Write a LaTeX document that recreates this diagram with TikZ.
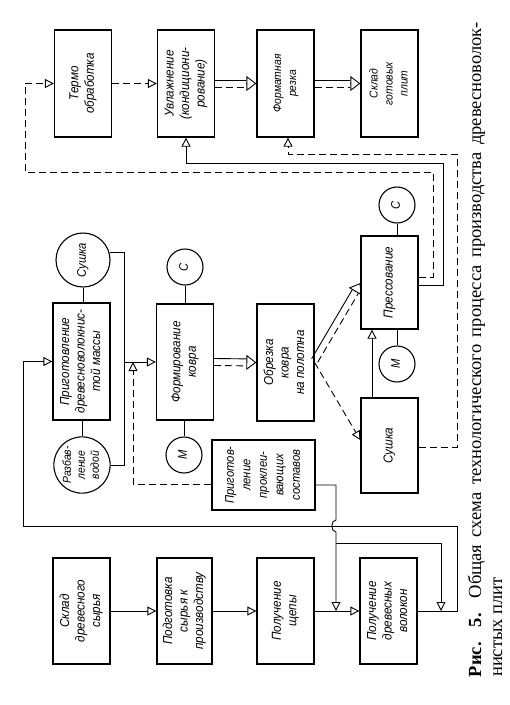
\documentclass[tikz,border=0pt]{standalone}
\usepackage{fontspec}
\usepackage{graphicx}
\setmainfont{Liberation Serif}
\newfontfamily\dfont[FakeStretch=0.9]{Liberation Sans}
\usetikzlibrary{arrows.meta,calc}
\newcommand\vtext[1]{\rotatebox{90}{\begin{tabular}{@{}c@{}}#1\end{tabular}}}
\newcommand\dblcon[2]{%
  \coordinate (dcA) at (#1);
  \coordinate (dcB) at (#2);
  \coordinate (dcM) at ($(dcB)!10pt!(dcA)$);
  \draw[conn] ($(dcA)!3.5pt!90:(dcB)$) -- ($(dcM)!3.5pt!90:(dcB)$);
  \draw[conn,dsh] ($(dcA)!3.5pt!-90:(dcB)$) -- ($(dcM)!3.5pt!-90:(dcB)$);
  \draw[conn,dbltip] (dcM) -- (dcB);}
\begin{document}
\begin{tikzpicture}[x=1pt,y=-1pt,
  box/.style={draw, line width=1.3pt, inner sep=0pt, minimum width=57pt,
    font=\dfont\itshape\fontsize{13}{15.5}\selectfont},
  small/.style={font=\dfont\itshape\fontsize{11.5}{15}\selectfont},
  circ/.style={draw, circle, line width=1.1pt, inner sep=0pt,
    font=\dfont\itshape\fontsize{12.5}{14}\selectfont},
  conn/.style={line width=0.9pt},
  dsh/.style={dash pattern=on 7pt off 4pt},
  arr/.style={-{Triangle[open,length=9pt,width=9pt,line width=0.9pt]}},
  dbltip/.style={-{Triangle[open,length=10pt,width=15pt,line width=0.9pt]}}]
\useasboundingbox (0,0) rectangle (510,705);
\fill[white] (0,0) rectangle (510,705);
% top row
\node[box, minimum height=107pt] (term) at (83,83.5) {\vtext{Термо\\обработка}};
\node[box, minimum height=107pt] (uvl) at (186,83.5) {\vtext{Увлажнение\\(кондициони-\\рование)}};
\node[box, small, minimum height=107pt] (form) at (285.5,83.5) {\vtext{Форматная\\резка}};
\node[box, small, minimum height=107pt] (gotov) at (389.5,83.5) {\vtext{Склад\\готовых\\плит}};
% middle
\node[circ, minimum size=54pt] (sush1) at (83,260) {\vtext{Сушка}};
\node[box, minimum height=117pt] (prig) at (81.5,361.5) {\vtext{Приготовление\\древесноволокнис-\\той массы}};
\node[circ, minimum size=54pt, font=\dfont\itshape\fontsize{11.5}{14}\selectfont] (razb) at (82,465) {\vtext{Разбав-\\ление\\водой}};
\node[box, minimum height=116pt] (formir) at (185,362) {\vtext{Формирование\\ковра}};
\node[circ, minimum size=36pt] (c1) at (185,267) {\vtext{С}};
\node[circ, minimum size=36pt] (m1) at (184,455) {\vtext{М}};
\node[box, minimum height=117pt] (obrez) at (285.5,362.5) {\vtext{Обрезка\\ковра\\на полотна}};
\node[box, minimum height=93pt] (press) at (389.5,282.5) {\vtext{Прессование}};
\node[circ, minimum size=36pt] (c2) at (397,205) {\vtext{С}};
\node[circ, minimum size=36pt] (m2) at (397,364) {\vtext{М}};
\node[box, minimum height=95pt] (sush2) at (389.5,445.5) {\vtext{Сушка}};
\node[box, minimum width=103pt, minimum height=70pt, font=\dfont\itshape\fontsize{12.5}{16.5}\selectfont] (prok) at (263.5,475) {\vtext{Приготов-\\ление\\проклеи-\\вающих\\составов}};
% bottom row
\node[box, minimum height=106pt] (skl) at (81.5,611) {\vtext{Склад\\древесного\\сырья}};
\node[box, minimum width=55pt, minimum height=106pt] (podg) at (184.5,611) {\vtext{Подготовка\\сырья к\\производству}};
\node[box, minimum height=106pt] (shch) at (285.5,611) {\vtext{Получение\\щепы}};
\node[box, minimum height=106pt] (volok) at (388.5,611) {\vtext{Получение\\древесных\\волокон}};
% connectors top
\draw[conn,dsh,arr] (term.east) -- (uvl.west);
\dblcon{uvl.east}{form.west}
\dblcon{form.east}{gotov.west}
\draw[conn,dsh,arr] ([yshift=5.5pt]press.east) -| (433,172) -- (25,172) |- (term.west);
\draw[conn,arr] ([yshift=-2.5pt]press.east) -| (443,163) -| (uvl.south);
\draw[conn,dsh,arr] ([yshift=-1.5pt]sush2.east) -| (457,154) -| ([xshift=2.5pt]form.south);
% middle
\draw[conn] (sush1.south) -- (sush1.south |- prig.north);
\draw[conn] (razb.north |- prig.south) -- (razb.north);
\draw[conn] (c1.south) -- (c1.south |- formir.north);
\draw[conn] (m1.north) -- (m1.north |- formir.south);
\draw[conn] (c2.south) -- (c2.south |- press.north);
\draw[conn] (m2.north) -- (m2.north |- press.south);
\draw[conn,arr] (sush1.15) -| (124,362) -- (formir.west);
\draw[conn] (razb.east) -| (124,362);
\draw[conn,dsh,arr] ([yshift=-9pt]prok.west) -| (133,362);
\dblcon{formir.east}{obrez.west}
\dblcon{$(obrez.east)+(0,-2)$}{$(press.west)+(0,0.5)$}
\draw[conn,dsh,arr] (obrez.east) -- ($(sush2.west)+(0,-5.5)$);
\draw[conn,arr] ([xshift=-17.5pt]sush2.north) -- ([xshift=-17.5pt]press.south);
% bottom
\draw[conn,arr] (skl.east) -- (podg.west);
\draw[conn,arr] (podg.east) -- (shch.west);
\draw[conn,arr] (shch.east) -- (volok.west);
\draw[conn,arr] (volok.east) -| (457,526) -- (23,526) |- (prig.west);
\draw[conn,arr] ([yshift=-10pt]prok.east) -| (336,520) .. controls (330.5,520) and (330.5,532) .. (336,532) -- (336,611);
\draw[conn,arr] (336,543) -| (441,611);
% caption
\node[rotate=90, anchor=base, inner sep=0pt] (cap1) at (481,349.5) {\fontsize{18.5}{21}\selectfont\makebox[655pt][s]{\textbf{Рис. 5.} Общая схема технологического процесса производства древесноволок-}};
\node[rotate=90, anchor=base west, inner sep=0pt] (cap2) at (502,677) {\fontsize{18.5}{21}\selectfont нистых плит};
\end{tikzpicture}
\end{document}
